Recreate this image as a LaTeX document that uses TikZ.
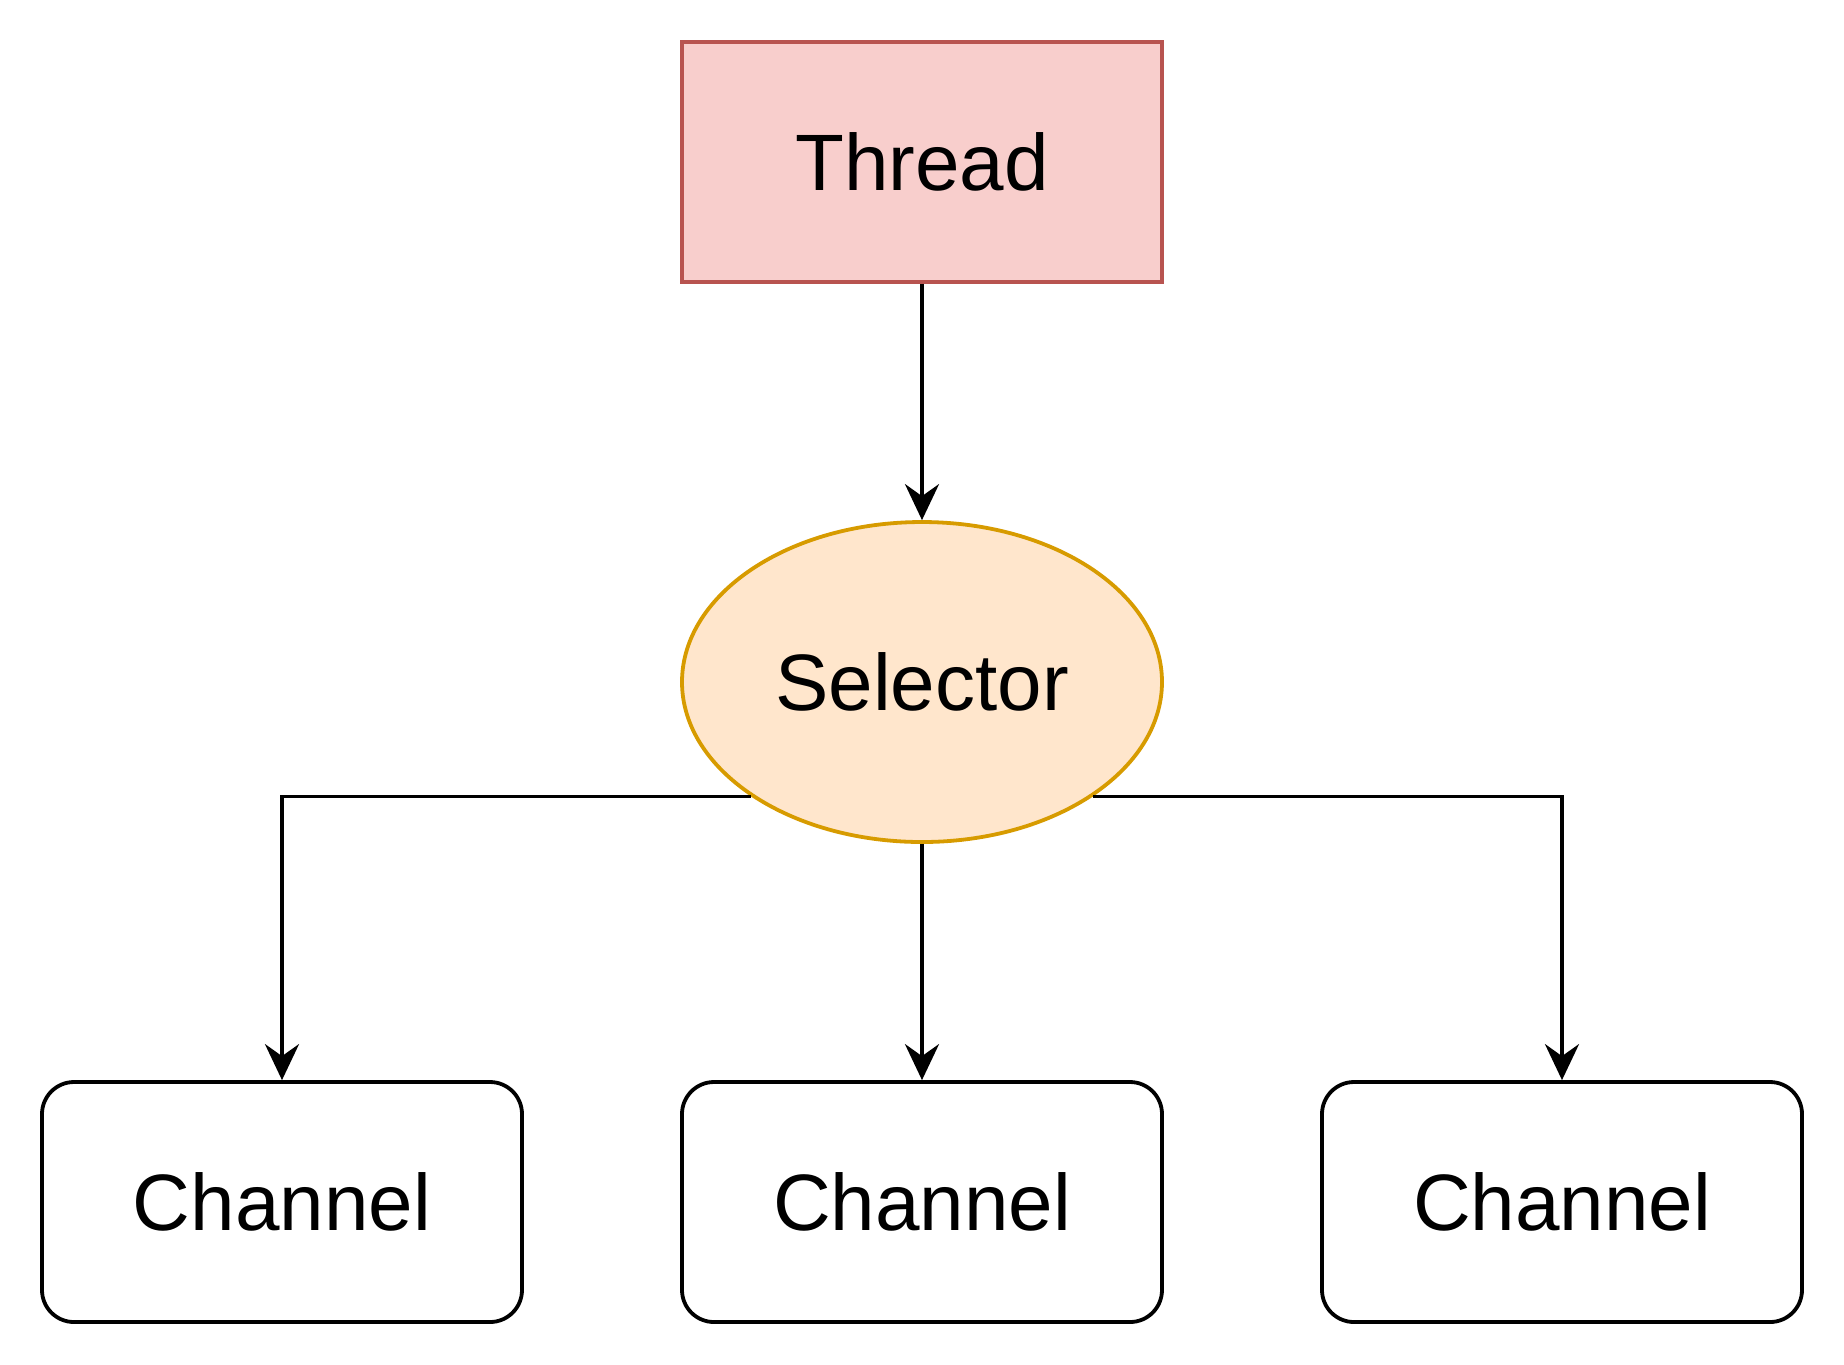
\documentclass[tikz,border=0pt]{standalone}
\usepackage{fontspec}
\setmainfont{Liberation Sans}
\usepackage{tikz}
\usetikzlibrary{arrows.meta}
\usetikzlibrary{shapes.geometric}
\usetikzlibrary{positioning}
\definecolor{threadfill}{HTML}{F8CECC}
\definecolor{threadline}{HTML}{B85450}
\definecolor{selfill}{HTML}{FFE6CC}
\definecolor{selline}{HTML}{D79B00}
\tikzset{
	threadbox/.style={draw=threadline, fill=threadfill, line width=0.95pt, rectangle,
		minimum width=120pt, minimum height=60pt, inner sep=0pt, font=\fontsize{20}{24}\selectfont},
	selector/.style={draw=selline, fill=selfill, line width=0.95pt, ellipse,
		minimum width=120pt, minimum height=80pt, inner sep=0pt, font=\fontsize{20}{24}\selectfont},
	channel/.style={draw=black, line width=0.95pt, rectangle, rounded corners=8pt,
		minimum width=120pt, minimum height=60pt, inner sep=0pt, font=\fontsize{20}{24}\selectfont},
	link/.style={draw=black, line width=0.95pt, -{Stealth[length=9pt, width=8.5pt, inset=3pt]}},
}

\begin{document}
\begin{tikzpicture}[x=1pt, y=-1pt]
		\useasboundingbox (0, 0) rectangle (461, 341);
		% Thread and selector
		\node [threadbox] (thread) at (230.5, 40.5) {Thread};
		\node [selector] (sel) at (230.5, 170.5) {Selector};
		% Channels
		\node [channel] (ch1) at (70.5, 300.5) {Channel};
		\node [channel] (ch2) at (230.5, 300.5) {Channel};
		\node [channel] (ch3) at (390.5, 300.5) {Channel};
		% Connectors
		\draw [link] (thread) -- (sel);
		\draw [link] (sel) -- (ch2);
		\draw [link] (sel.south west) -| (ch1);
		\draw [link] (sel.south east) -| (ch3);
\end{tikzpicture}
\end{document}
